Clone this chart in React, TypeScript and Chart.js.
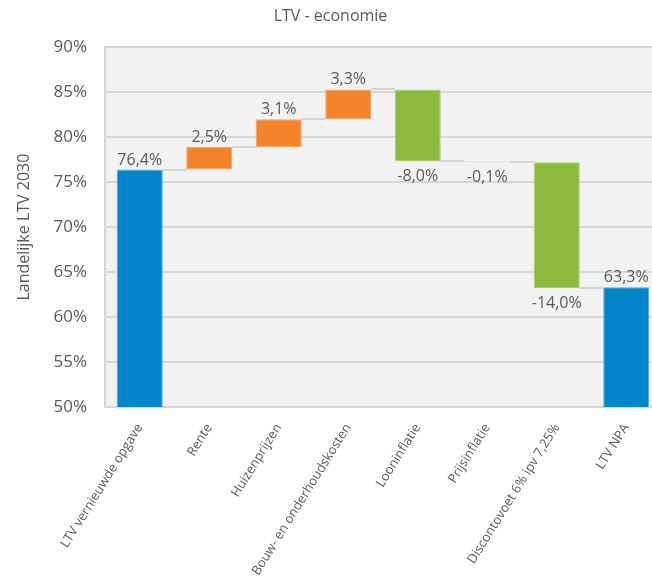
import React, { useEffect, useRef } from "react";
import { Chart, registerables } from "chart.js";

Chart.register(...registerables);

const categories = [
  "LTV vernieuwde opgave",
  "Rente",
  "Huizenprijzen",
  "Bouw- en onderhoudskosten",
  "Looninflatie",
  "Prijsinflatie",
  "Discontovoet 6% ipv 7,25%",
  "LTV NPA",
];
const changes = [76.4, 2.5, 3.1, 3.3, -8.0, -0.1, -14.0, 63.3];
const kinds = ["total", "inc", "inc", "inc", "dec", "dec", "dec", "total"];
const yTicks = [50, 55, 60, 65, 70, 75, 80, 85, 90];

const COLORS: Record<string, string> = { total: "#0284CB", inc: "#F5832A", dec: "#8BBA3F" };
const BORDERS: Record<string, string> = { total: "#4FA9DE", inc: "#F8A262", dec: "#A9CC6E" };

const TEXT = "#595959";
const FONT = "'Open Sans', 'DejaVu Sans', sans-serif";

function buildRanges() {
  const ranges: [number, number][] = [];
  const ends: number[] = [];
  let run = 0;
  changes.forEach((v, i) => {
    if (kinds[i] === "total") {
      ranges.push([0, v]);
      run = v;
    } else {
      ranges.push([run, run + v]);
      run = run + v;
    }
    ends.push(run);
  });
  return { ranges, ends };
}

const fmt = (v: number) => v.toFixed(1).replace(".", ",") + "%";

export default function App() {
  const ref = useRef<HTMLCanvasElement>(null);
  useEffect(() => {
    const { ranges, ends } = buildRanges();
    const bgPlugin = {
      id: "bg",
      beforeDraw(chart: any) {
        const { ctx, chartArea } = chart;
        ctx.save();
        ctx.fillStyle = "#F2F2F2";
        ctx.fillRect(chartArea.left, chartArea.top, chartArea.right - chartArea.left, chartArea.bottom - chartArea.top);
        ctx.restore();
      },
    };
    const wfPlugin = {
      id: "wf",
      afterDatasetsDraw(chart: any) {
        const { ctx } = chart;
        const y = chart.scales.y;
        const meta = chart.getDatasetMeta(0);
        ctx.save();
        ctx.strokeStyle = "#D2D2D2";
        ctx.lineWidth = 2;
        for (let i = 0; i < meta.data.length - 1; i++) {
          const a = meta.data[i];
          const b = meta.data[i + 1];
          const py = Math.round(y.getPixelForValue(ends[i]));
          ctx.beginPath();
          ctx.moveTo(a.x + a.width / 2, py);
          ctx.lineTo(b.x - b.width / 2, py);
          ctx.stroke();
        }
        ctx.fillStyle = TEXT;
        ctx.font = `16px ${FONT}`;
        ctx.textAlign = "center";
        ctx.textBaseline = "alphabetic";
        meta.data.forEach((el: any, i: number) => {
          const [s, e] = ranges[i];
          const v = changes[i];
          if (v >= 0) {
            const top = y.getPixelForValue(Math.max(s, e));
            ctx.fillText(fmt(v), el.x, top - 5);
          } else {
            const bot = y.getPixelForValue(Math.min(s, e));
            ctx.fillText(fmt(v), el.x, bot + 20);
          }
        });
        ctx.restore();
      },
    };
    const chart = new Chart(ref.current!, {
      type: "bar",
      data: {
        labels: categories,
        datasets: [
          {
            data: ranges as any,
            backgroundColor: kinds.map((k) => COLORS[k]),
            borderColor: kinds.map((k) => BORDERS[k]),
            borderWidth: 1,
            borderSkipped: false,
            barPercentage: 0.662,
            categoryPercentage: 1,
          },
        ],
      },
      options: {
        responsive: false,
        animation: false,
        layout: { padding: { left: 0, right: 9, top: 0, bottom: 0 } },
        plugins: {
          legend: { display: false },
          tooltip: { enabled: false },
          title: {
            display: true,
            text: "LTV - economie",
            color: TEXT,
            font: { family: FONT, size: 16, weight: "normal" },
            padding: { top: 7, bottom: 21 },
          },
        },
        scales: {
          x: {
            grid: { display: false },
            border: { display: false },
            ticks: {
              autoSkip: false,
              minRotation: 58,
              maxRotation: 58,
              padding: 6,
              color: TEXT,
              font: { family: FONT, size: 13 },
            },
            afterFit(scale: any) {
              scale.height = 176;
            },
          },
          y: {
            min: 50,
            max: 90,
            afterBuildTicks(scale: any) {
              scale.ticks = yTicks.map((v) => ({ value: v }));
            },
            grid: { color: "#D6D6D6", lineWidth: 2, drawTicks: false },
            border: { display: true, color: "#D6D6D6", width: 2 },
            ticks: {
              padding: 18,
              color: TEXT,
              font: { family: FONT, size: 17 },
              callback: (v: any) => v + "%",
            },
            title: {
              display: true,
              text: "Landelijke LTV 2030",
              color: TEXT,
              font: { family: FONT, size: 16 },
              padding: { top: 15, bottom: 0 },
            },
            afterFit(scale: any) {
              scale.width = 105;
            },
          },
        },
      },
      plugins: [bgPlugin, wfPlugin],
    });
    return () => chart.destroy();
  }, []);
  return (
    <div
      style={{
        position: "fixed",
        left: 0,
        top: 0,
        width: 652,
        height: 583,
        overflow: "hidden",
        background: "#fff",
      }}
    >
      <canvas ref={ref} width={670} height={583} style={{ display: "block", width: 670, height: 583 }} />
    </div>
  );
}
